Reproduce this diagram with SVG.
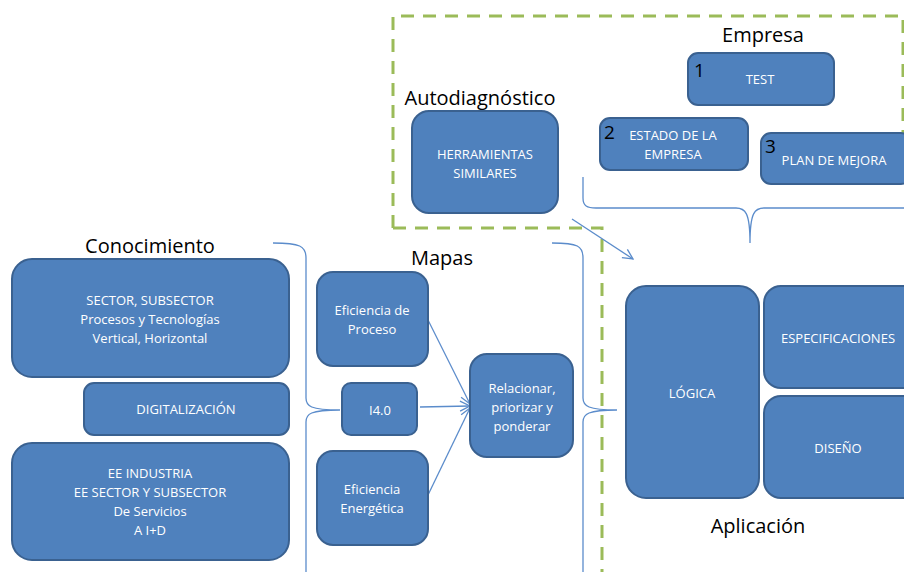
<svg xmlns="http://www.w3.org/2000/svg" width="904" height="572" viewBox="0 0 904 572">
<defs>
<style>
.box{fill:#4F81BD;stroke:#3A6190;stroke-width:2}
.bt{fill:#FFFFFF;font-family:"Open Sans","Noto Sans",sans-serif;font-size:13px;text-anchor:middle}
.hd{fill:#000000;font-family:"Open Sans","Noto Sans",sans-serif;font-size:20px;text-anchor:middle}
.num{fill:#000000;font-family:"Open Sans","Noto Sans",sans-serif;font-size:19px}
.ln{fill:none;stroke:#5B8CCB;stroke-width:1.3}
.dash{fill:none;stroke:#9BBB59;stroke-width:3;stroke-dasharray:13 9}
</style>
<marker id="ah" viewBox="0 0 12 12" refX="11" refY="6" markerWidth="12" markerHeight="12" markerUnits="userSpaceOnUse" orient="auto">
<path d="M1,1 L11,6 L1,11" fill="none" stroke="#5B8CCB" stroke-width="1.3"/>
</marker>
</defs>
<rect width="904" height="572" fill="#FFFFFF"/>

<g id="region-border">
<path class="dash" d="M393,228 L393,16 L903,16 L903,133"/>
<path class="dash" d="M393,228 L602,228 L602,572"/>
</g>

<g id="labels">
<text class="hd" x="763" y="42">Empresa</text>
<text class="hd" x="480" y="105">Autodiagnóstico</text>
<text class="hd" x="150" y="253">Conocimiento</text>
<text class="hd" x="442" y="265">Mapas</text>
<text class="hd" x="758" y="533">Aplicación</text>
</g>

<g id="connectors">
<path class="ln" d="M583,177 L583,198 C583,206 587,208 596,208 L736,208 C745,208 750,212 750,243 M750,243 C750,212 755,208 764,208 L910,208"/>
<path class="ln" d="M273,243 C300,243 306,246 306,258 L306,398 C306,406 310,410 340,410 M340,410 C310,410 306,414 306,422 L306,580"/>
<path class="ln" d="M552,243 C578,243 583,246 583,258 L583,398 C583,406 588,410 617,410 M617,410 C588,410 583,414 583,422 L583,580"/>
<line class="ln" x1="572" y1="219" x2="633" y2="259" marker-end="url(#ah)"/>
<line class="ln" x1="428" y1="320" x2="470" y2="404" marker-end="url(#ah)"/>
<line class="ln" x1="420" y1="407" x2="470" y2="406" marker-end="url(#ah)"/>
<line class="ln" x1="428" y1="495" x2="470" y2="408" marker-end="url(#ah)"/>
</g>

<g id="test">
<rect class="box" x="688" y="53" width="146" height="52" rx="10"/>
<text class="num" x="694" y="77">1</text>
<text class="bt" x="760" y="84">TEST</text>
</g>
<g id="estado">
<rect class="box" x="600" y="118" width="148" height="52" rx="10"/>
<text class="num" x="604" y="139">2</text>
<text class="bt" x="673" y="140">ESTADO DE LA</text>
<text class="bt" x="673" y="159">EMPRESA</text>
</g>
<g id="plan">
<rect class="box" x="761" y="133" width="150" height="51" rx="10"/>
<text class="num" x="765" y="153">3</text>
<text class="bt" x="834" y="165">PLAN DE MEJORA</text>
</g>
<g id="herramientas">
<rect class="box" x="412" y="111" width="146" height="102" rx="17"/>
<text class="bt" x="485" y="159">HERRAMIENTAS</text>
<text class="bt" x="485" y="178">SIMILARES</text>
</g>

<g id="sector">
<rect class="box" x="12" y="259" width="277" height="118" rx="20"/>
<text class="bt" x="150" y="305">SECTOR, SUBSECTOR</text>
<text class="bt" x="150" y="324">Procesos y Tecnologías</text>
<text class="bt" x="150" y="343">Vertical, Horizontal</text>
</g>
<g id="digitalizacion">
<rect class="box" x="84" y="383" width="205" height="52" rx="10"/>
<text class="bt" x="186" y="414">DIGITALIZACIÓN</text>
</g>
<g id="ee">
<rect class="box" x="12" y="443" width="277" height="117" rx="20"/>
<text class="bt" x="150" y="478">EE INDUSTRIA</text>
<text class="bt" x="150" y="497">EE SECTOR Y SUBSECTOR</text>
<text class="bt" x="150" y="516">De Servicios</text>
<text class="bt" x="150" y="535">A I+D</text>
</g>

<g id="eficiencia-proceso">
<rect class="box" x="317" y="272" width="111" height="94" rx="16"/>
<text class="bt" x="372" y="315">Eficiencia  de</text>
<text class="bt" x="372" y="334">Proceso</text>
</g>
<g id="i40">
<rect class="box" x="342" y="383" width="75" height="52" rx="9"/>
<text class="bt" x="380" y="415">I4.0</text>
</g>
<g id="eficiencia-energetica">
<rect class="box" x="317" y="451" width="111" height="94" rx="16"/>
<text class="bt" x="372" y="494">Eficiencia</text>
<text class="bt" x="372" y="513">Energética</text>
</g>
<g id="relacionar">
<rect class="box" x="470" y="354" width="103" height="103" rx="17"/>
<text class="bt" x="522" y="393">Relacionar,</text>
<text class="bt" x="522" y="412">priorizar y</text>
<text class="bt" x="522" y="431">ponderar</text>
</g>

<g id="logica">
<rect class="box" x="626" y="286" width="133" height="212" rx="20"/>
<text class="bt" x="692" y="398">LÓGICA</text>
</g>
<g id="especificaciones">
<rect class="box" x="764" y="286" width="155" height="102" rx="17"/>
<text class="bt" x="838" y="343">ESPECIFICACIONES</text>
</g>
<g id="diseno">
<rect class="box" x="764" y="396" width="155" height="102" rx="17"/>
<text class="bt" x="838" y="453">DISEÑO</text>
</g>
</svg>
